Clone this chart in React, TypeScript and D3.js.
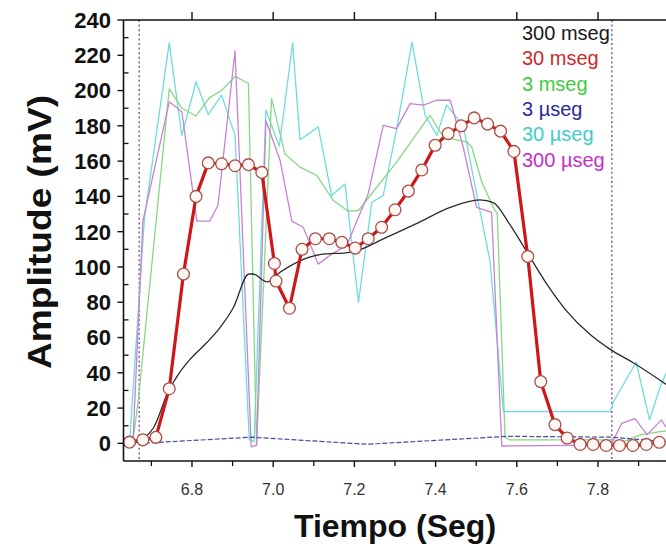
import React from 'react';
import * as d3 from 'd3';

// ---- data ----
const X_TICKS = [6.8, 7.0, 7.2, 7.4, 7.6, 7.8];
const X_MINOR = [6.7, 6.9, 7.1, 7.3, 7.5, 7.7, 7.9];
const Y_TICKS = [0, 20, 40, 60, 80, 100, 120, 140, 160, 180, 200, 220, 240];
const Y_MINOR = [10, 30, 50, 70, 90, 110, 130, 150, 170, 190, 210, 230];
const MARKER_TIMES = [6.67, 7.834];

const LEGEND_LABELS = ['300 mseg', '30 mseg', '3 mseg', '3 \u00b5seg', '30 \u00b5seg', '300 \u00b5seg'];

const T_300MS = [6.632, 6.647, 6.680, 6.705, 6.742, 6.766, 6.795, 6.836, 6.869, 6.902, 6.940, 6.950, 6.985, 7.017, 7.066, 7.115, 7.189, 7.206, 7.271, 7.354, 7.436, 7.509, 7.542, 7.583, 7.633, 7.674, 7.723, 7.780, 7.830, 7.887, 7.968];
const V_300MS = [0, 0, 2.7, 8.7, 29.6, 39, 47.6, 57, 65.6, 77, 96, 96, 91.5, 97, 103.5, 107, 108.3, 109.2, 115.9, 124.7, 133.8, 138, 136.5, 124, 105.4, 90.3, 75, 61.8, 53.3, 45.7, 33.4];

const T_30MS = [6.646, 6.679, 6.711, 6.744, 6.779, 6.810, 6.840, 6.873, 6.906, 6.939, 6.972, 7.003, 7.007, 7.040, 7.071, 7.104, 7.138, 7.169, 7.202, 7.234, 7.267, 7.300, 7.333, 7.366, 7.399, 7.431, 7.463, 7.495, 7.528, 7.560, 7.593, 7.627, 7.659, 7.694, 7.724, 7.756, 7.788, 7.820, 7.853, 7.886, 7.919, 7.951];
const V_30MS = [0.7, 2, 3.4, 31, 96, 140, 159, 158.5, 157.4, 158, 153.6, 102, 92, 76.6, 110, 116, 116, 114, 110.7, 116, 122.5, 132.4, 143, 155, 169, 175.6, 180, 184.5, 181, 177, 165.5, 106, 35, 10.6, 3, -0.6, -0.6, -1.2, -1.2, -1.2, -0.6, 0.6];

const T_3MS = [6.632, 6.655, 6.668, 6.744, 6.775, 6.810, 6.843, 6.873, 6.906, 6.939, 6.959, 6.996, 7.029, 7.066, 7.107, 7.148, 7.185, 7.210, 7.255, 7.304, 7.345, 7.386, 7.419, 7.477, 7.489, 7.514, 7.542, 7.552, 7.571, 7.583, 7.832, 7.842, 7.904, 7.953, 7.968];
const V_3MS = [2, 2, 25, 201, 190, 185.6, 196, 200, 208, 204, -1, 195.6, 164, 156.6, 151.9, 137.7, 131.6, 132, 145.2, 159.4, 172.8, 186, 173.7, 170.8, 168, 148, 133.8, 130, 3.6, 2, 2, -1, 4.8, 6.6, 7];

const T_3US = [6.632, 6.947, 7.231, 7.578, 7.832, 7.968];
const V_3US = [-0.5, 3.5, -0.5, 4, 3.5, 1];

const T_30US = [6.632, 6.647, 6.683, 6.744, 6.775, 6.810, 6.840, 6.873, 6.906, 6.916, 6.941, 6.953, 6.982, 7.015, 7.048, 7.066, 7.111, 7.144, 7.177, 7.210, 7.243, 7.271, 7.304, 7.342, 7.374, 7.403, 7.427, 7.468, 7.501, 7.534, 7.567, 7.830, 7.838, 7.894, 7.927, 7.953, 7.968];
const V_30US = [1, 3, 128, 227, 174.6, 205, 186.4, 197.4, 174.6, 126, 2, 1, 189, 168.4, 227, 172, 179.4, 140.5, 147, 80, 136.7, 140.5, 178, 227.5, 186, 174.6, 191.7, 180.3, 141.5, 103.5, 18, 18, 23.6, 46, 13.3, 32, 40];

const T_300US = [6.632, 6.647, 6.655, 6.679, 6.744, 6.775, 6.812, 6.844, 6.864, 6.906, 6.946, 6.959, 6.982, 7.017, 7.046, 7.074, 7.111, 7.144, 7.181, 7.234, 7.271, 7.304, 7.337, 7.370, 7.403, 7.436, 7.468, 7.501, 7.538, 7.563, 7.832, 7.858, 7.891, 7.921, 7.956, 7.968];
const V_300US = [3, 1, 3, 126, 193.6, 188, 126, 126, 135, 222.5, -2, -1, 183, 160.4, 126, 122.5, 101.6, 107.3, 112, 141.5, 180.3, 178.4, 192.6, 191.7, 194.5, 194.5, 168, 133.8, 131, -1.5, -1, 11.3, 14, 4.8, 13.3, 9];

const FONT = '"Liberation Sans", Arial, Helvetica, sans-serif';

function zip(ts: number[], vs: number[]): [number, number][] {
  return ts.map((t, i) => [t, vs[i]] as [number, number]);
}

export default function App() {
  const W = 666;
  const H = 544;
  const left = 123.5;
  const top = 20;
  const bottom = 461;
  const pxPerUnit = 406;
  const x = d3.scaleLinear().domain([6.6313, 7.98]).range([left, left + (7.98 - 6.6313) * pxPerUnit]);
  const y = d3.scaleLinear().domain([-10, 240]).range([bottom, top]);

  const lin = d3.line<[number, number]>().x(d => x(d[0])).y(d => y(d[1]));
  const smooth = d3.line<[number, number]>().x(d => x(d[0])).y(d => y(d[1])).curve(d3.curveMonotoneX);

  const red = zip(T_30MS, V_30MS);
  const legendColors = ['#1a1a1a', '#cc2a2a', '#3ccc3c', '#2a2a96', '#3ccccc', '#c430c4'];

  return (
    <svg width={W} height={H} style={{ position: 'absolute', left: 0, top: 0, background: '#fff' }} fontFamily={FONT}>
      <defs>
        <clipPath id="plot">
          <rect x={left} y={top} width={W - left} height={bottom - top} />
        </clipPath>
      </defs>
      <rect x={0} y={0} width={W} height={H} fill="#fff" />

      {/* dotted markers */}
      {MARKER_TIMES.map((t, i) => (
        <line key={'m' + i} x1={x(t)} x2={x(t)} y1={top} y2={bottom} stroke="#8a68b0" strokeWidth={1.6} strokeDasharray="2 2.6" />
      ))}

      <g clipPath="url(#plot)" fill="none" strokeLinejoin="round">
        <path d={lin(zip(T_30US, V_30US)) || ''} stroke="#6edcdc" strokeWidth={1.3} />
        <path d={lin(zip(T_3MS, V_3MS)) || ''} stroke="#85d885" strokeWidth={1.3} />
        <path d={lin(zip(T_300US, V_300US)) || ''} stroke="#c882d2" strokeWidth={1.3} />
        <path d={lin(zip(T_3US, V_3US)) || ''} stroke="#4a4a9e" strokeWidth={1.2} strokeDasharray="5 2" />
        <path d={smooth(zip(T_300MS, V_300MS)) || ''} stroke="#2a2a2a" strokeWidth={1.3} />
        <path d={lin(red) || ''} stroke="#d01616" strokeWidth={3.2} />
        {red.map((d, i) => (
          <circle key={'c' + i} cx={x(d[0])} cy={y(d[1])} r={5.9} fill="#fff8f4" stroke="#a8504a" strokeWidth={1.3} />
        ))}
      </g>

      {/* frame */}
      <line x1={left} x2={left} y1={top} y2={bottom} stroke="#111" strokeWidth={1.6} />
      <line x1={left} x2={W} y1={bottom} y2={bottom} stroke="#111" strokeWidth={1.6} />
      <line x1={left} x2={W} y1={top} y2={top} stroke="#111" strokeWidth={1.6} />

      {/* x ticks */}
      {X_TICKS.map(t => (
        <g key={'xt' + t}>
          <line x1={x(t)} x2={x(t)} y1={bottom} y2={bottom + 6} stroke="#111" strokeWidth={1.4} />
          <line x1={x(t)} x2={x(t)} y1={top} y2={top - 8} stroke="#111" strokeWidth={1.4} />
          <text x={x(t)} y={495} textAnchor="middle" fontSize={16} fill="#333">{t.toFixed(1)}</text>
        </g>
      ))}
      {X_MINOR.map(t => (
        <line key={'xm' + t} x1={x(t)} x2={x(t)} y1={bottom} y2={bottom + 5} stroke="#111" strokeWidth={1.3} />
      ))}

      {/* y ticks */}
      {Y_TICKS.map(v => (
        <g key={'yt' + v}>
          <line x1={left - 6} x2={left} y1={y(v)} y2={y(v)} stroke="#111" strokeWidth={1.4} />
          <text x={111} y={y(v)} dy="0.36em" textAnchor="end" fontSize={22} fontWeight="bold" fill="#111">{v}</text>
        </g>
      ))}
      {Y_MINOR.map(v => (
        <line key={'ym' + v} x1={left} x2={left + 5} y1={y(v)} y2={y(v)} stroke="#111" strokeWidth={1.3} />
      ))}

      {/* axis titles */}
      <text x={395} y={537} textAnchor="middle" fontSize={32} fontWeight="bold" fill="#111">Tiempo (Seg)</text>
      <text transform={`translate(51,232) rotate(-90)`} textAnchor="middle" fontSize={33} fontWeight="bold" fill="#111"
        textLength={274} lengthAdjust="spacingAndGlyphs">Amplitude (mV)</text>

      {/* legend */}
      {LEGEND_LABELS.map((s, i) => (
        <text key={'l' + i} x={522} y={40 + i * 25.3} fontSize={20} fill={legendColors[i]}>{s}</text>
      ))}
    </svg>
  );
}
